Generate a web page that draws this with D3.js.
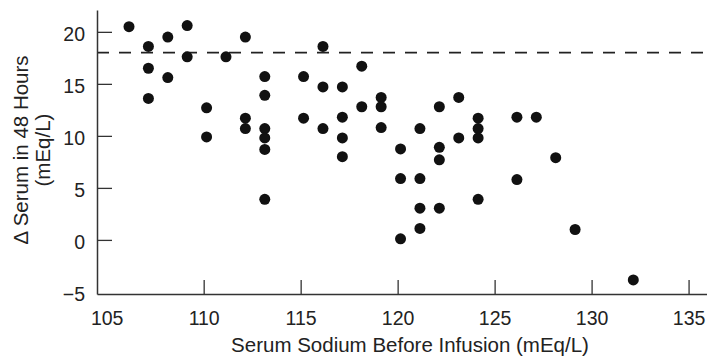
<!DOCTYPE html>
<html>
<head>
<meta charset="utf-8">
<script src="https://cdn.jsdelivr.net/npm/d3@7"></script>
<style>
  html, body { margin: 0; padding: 0; background: #fff; }
  svg { display: block; font-family: "Liberation Sans", Arial, sans-serif; }
</style>
</head>
<body>
<div id="chart"></div>
<script>
// values
const sodium = [
  106.15,
  107.15, 107.15, 107.15,
  108.15, 108.15,
  109.15, 109.15,
  110.15, 110.15,
  111.15,
  112.15, 112.15, 112.15,
  113.15, 113.15, 113.15, 113.15, 113.15, 113.15,
  115.15, 115.15,
  116.15, 116.15, 116.15,
  117.15, 117.15, 117.15, 117.15,
  118.15, 118.15,
  119.15, 119.15, 119.15,
  120.15, 120.15, 120.15,
  121.15, 121.15, 121.15, 121.15,
  122.15, 122.15, 122.15, 122.15,
  123.15, 123.15,
  124.15, 124.15, 124.15, 124.15,
  126.15, 126.15,
  127.15,
  128.15,
  129.15,
  132.15
];
const serumChange = [
  20.5,
  18.6, 16.5, 13.6,
  19.5, 15.6,
  20.6, 17.6,
  12.7, 9.9,
  17.6,
  19.5, 11.7, 10.7,
  15.7, 13.9, 10.7, 9.8, 8.7, 3.9,
  15.7, 11.7,
  18.6, 14.7, 10.7,
  14.7, 11.8, 9.8, 8.0,
  16.7, 12.8,
  13.7, 12.8, 10.8,
  8.75, 5.9, 0.1,
  10.7, 5.9, 3.05, 1.1,
  12.8, 8.9, 7.7, 3.05,
  13.7, 9.8,
  11.7, 10.7, 9.8, 3.9,
  11.8, 5.8,
  11.8,
  7.9,
  1.0,
  -3.85
];
const referenceLevel = 18;
const xTicks = [105, 110, 115, 120, 125, 130, 135];
const yTicks = [-5, 0, 5, 10, 15, 20];
const xTitle = 'Serum Sodium Before Infusion (mEq/L)';
const yTitle = ['\u0394 Serum in 48 Hours', '(mEq/L)'];

const width = 707;
const height = 357;
const plot = { left: 97, right: 707, top: 10, bottom: 294 };

const svg = d3.select('#chart')
  .append('svg')
  .attr('width', width)
  .attr('height', height);

const x = d3.scaleLinear()
  .domain([104.5, 135.95])
  .range([plot.left, plot.right]);

const y = d3.scaleLinear()
  .domain([-5.2, 22.1])
  .range([plot.bottom, plot.top]);

const axisColor = '#333';

// reference line
svg.append('line')
  .attr('x1', plot.left)
  .attr('x2', plot.right)
  .attr('y1', y(referenceLevel))
  .attr('y2', y(referenceLevel))
  .attr('stroke', '#222')
  .attr('stroke-width', 1.8)
  .attr('stroke-dasharray', '12,10');

// points
svg.append('g')
  .selectAll('circle')
  .data(sodium)
  .join('circle')
  .attr('cx', d => x(d))
  .attr('cy', (d, i) => y(serumChange[i]))
  .attr('r', 5.5)
  .attr('fill', '#111');

// x axis
const xAxis = d3.axisBottom(x)
  .tickValues(xTicks)
  .tickFormat(d3.format('d'))
  .tickSizeInner(-14)
  .tickSizeOuter(0)
  .tickPadding(17);

const gx = svg.append('g')
  .attr('transform', `translate(0,${plot.bottom})`)
  .call(xAxis);

gx.selectAll('.tick line')
  .attr('stroke', axisColor)
  .attr('stroke-width', 1.3)
  .filter(d => d === 105)
  .remove();

// y axis
const yAxis = d3.axisLeft(y)
  .tickValues(yTicks)
  .tickFormat(d => d < 0 ? '\u2212' + Math.abs(d) : d)
  .tickSizeInner(-15)
  .tickSizeOuter(0)
  .tickPadding(12);

const gy = svg.append('g')
  .attr('transform', `translate(${plot.left},0)`)
  .call(yAxis);

gy.selectAll('.tick line')
  .attr('stroke', axisColor)
  .attr('stroke-width', 1.3)
  .filter(d => d === -5)
  .remove();

gy.selectAll('.tick text').attr('dy', '0.45em');

svg.selectAll('.domain')
  .attr('stroke', axisColor)
  .attr('stroke-width', 1.5);

svg.selectAll('.tick text')
  .attr('fill', '#222')
  .style('font-size', '19.5px')
  .style('font-family', '"Liberation Sans", Arial, sans-serif');

// titles
svg.append('text')
  .attr('x', (plot.left + plot.right) / 2 + 8)
  .attr('y', 352)
  .attr('text-anchor', 'middle')
  .attr('fill', '#222')
  .style('font-size', '20.5px')
  .text(xTitle);

svg.append('g')
  .selectAll('text')
  .data(yTitle)
  .join('text')
  .attr('transform', (d, i) => `translate(${28 + i * 22},150) rotate(-90)`)
  .attr('text-anchor', 'middle')
  .attr('fill', '#222')
  .style('font-size', '20.5px')
  .text(d => d);
</script>
</body>
</html>
